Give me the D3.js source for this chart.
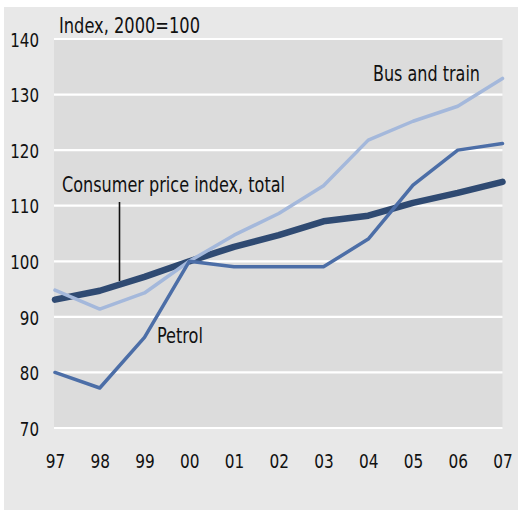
<!DOCTYPE html>
<html><head><meta charset="utf-8">
<script src="https://cdn.jsdelivr.net/npm/d3@7"></script>
<style>
html,body{margin:0;padding:0;background:#fff;}
text{font-family:"Liberation Sans Narrow","DejaVu Sans Condensed","Arial Narrow",sans-serif;fill:#111;}
</style></head>
<body>
<svg id="chart" width="518" height="511"></svg>
<script>
const years = ["97","98","99","00","01","02","03","04","05","06","07"];
const cpi = [93.1, 94.7, 97.2, 100, 102.6, 104.7, 107.2, 108.2, 110.5, 112.3, 114.3];
const petrol = [80.0, 77.2, 86.3, 100, 99.0, 99.0, 99.0, 104.0, 113.7, 120.0, 121.2];
const busTrain = [94.8, 91.4, 94.3, 100, 104.7, 108.6, 113.6, 121.8, 125.2, 127.9, 132.9];
const yTicks = [70, 80, 90, 100, 110, 120, 130, 140];

(function(){
const svg = d3.select("#chart");
const W = 518, H = 511;
const pL = 54, pR = 502.5, pT = 39, pB = 428;
const FF = '"Liberation Sans Narrow","DejaVu Sans Condensed",sans-serif';

svg.append("rect").attr("x",4).attr("y",7).attr("width",W-4).attr("height",503).attr("fill","#e8e8e8");
svg.append("rect").attr("x",pL).attr("y",pT).attr("width",pR-pL).attr("height",pB-pT).attr("fill","#dcdcdc");

const x = d3.scalePoint().domain(years).range([55, 502.5]);
const y = d3.scaleLinear().domain([70,140]).range([pB, pT]);

svg.append("g").selectAll("line").data(yTicks).join("line")
  .attr("x1",pL).attr("x2",pR).attr("y1",d=>y(d)).attr("y2",d=>y(d))
  .attr("stroke","#fff").attr("stroke-width",2.2);

const yAxis = d3.axisLeft(y).tickValues(yTicks).tickSize(0).tickPadding(0);
const gy = svg.append("g").attr("transform","translate(39,0)").call(yAxis);
gy.select(".domain").remove();
gy.selectAll("text").attr("font-size",20).attr("fill","#111")
  .style("font-family",FF).attr("dy","0.36em")
  .attr("textLength",d=>String(d).length*9.6).attr("lengthAdjust","spacingAndGlyphs");

const xAxis = d3.axisBottom(x).tickSize(0).tickPadding(0);
const gx = svg.append("g").attr("transform","translate(0,454)").call(xAxis);
gx.select(".domain").remove();
gx.selectAll("text").attr("font-size",20).attr("fill","#111")
  .style("font-family",FF).attr("dy","0.71em")
  .attr("textLength",19.5).attr("lengthAdjust","spacingAndGlyphs");

const line = d3.line().x((d,i)=>x(years[i])).y(d=>y(d));

svg.append("path").datum(cpi).attr("d",line).attr("fill","none")
  .attr("stroke","#2f4a72").attr("stroke-width",6.5).attr("stroke-linecap","round").attr("stroke-linejoin","round");
svg.append("path").datum(busTrain).attr("d",line).attr("fill","none")
  .attr("stroke","#a4b8db").attr("stroke-width",3.5).attr("stroke-linecap","round").attr("stroke-linejoin","round");
svg.append("path").datum(petrol).attr("d",line).attr("fill","none")
  .attr("stroke","#4c6ea7").attr("stroke-width",3.5).attr("stroke-linecap","round").attr("stroke-linejoin","round");

function label(txt, xx, yy, w){
  svg.append("text").attr("x",xx).attr("y",yy).attr("font-size",21)
    .attr("textLength",w).attr("lengthAdjust","spacingAndGlyphs").text(txt);
}
label("Index, 2000=100", 59, 33, 141);
label("Bus and train", 373, 81, 107);
label("Consumer price index, total", 62, 192, 223);
label("Petrol", 157, 343, 46);

svg.append("line").attr("x1",119.5).attr("x2",119.5).attr("y1",202).attr("y2",281)
  .attr("stroke","#111").attr("stroke-width",1.6);
})();
</script>
</body></html>
